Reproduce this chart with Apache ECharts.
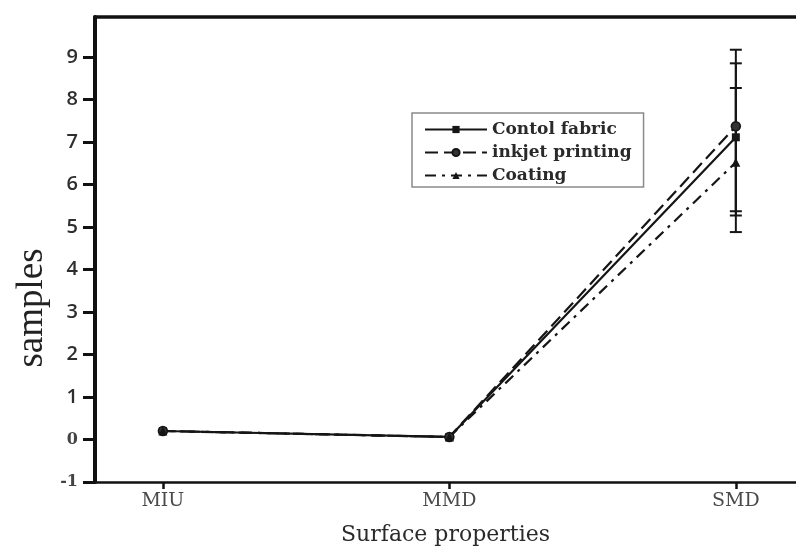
<!DOCTYPE html>
<html>
<head>
<meta charset="utf-8">
<script src="https://cdn.jsdelivr.net/npm/echarts@6/dist/echarts.min.js"></script>
<style>html,body{margin:0;padding:0;background:#fff;}#c{width:796px;height:551px;}</style>
</head>
<body>
<div id="c"></div>
<script>
const categories = ['MIU', 'MMD', 'SMD'];
const yTicks = [-1, 0, 1, 2, 3, 4, 5, 6, 7, 8, 9];
const seriesNames = ['Contol fabric', 'inkjet printing', 'Coating'];
const controlValues = [0.2, 0.06, 7.11];
const inkjetValues = [0.2, 0.06, 7.37];
const coatingValues = [0.2, 0.06, 6.52];
const controlErrLow = [null, null, 5.37];
const controlErrHigh = [null, null, 8.85];
const inkjetErrLow = [null, null, 5.27];
const inkjetErrHigh = [null, null, 9.17];
const coatingErrLow = [null, null, 4.88];
const coatingErrHigh = [null, null, 8.27];

const ink = '#151515';
const toPts = vals => vals.map((v, i) => [i, v]);
const errPts = (lo, hi) => lo.map((l, i) => [i, l, hi[i]]).filter(d => d[1] != null);

function errorSeries(lo, hi) {
  return {
    type: 'custom',
    silent: true,
    z: 1,
    data: errPts(lo, hi),
    renderItem: function (params, api) {
      const x = api.value(0);
      const a = api.coord([x, api.value(1)]);
      const b = api.coord([x, api.value(2)]);
      const cw = 6;
      const st = { stroke: ink, lineWidth: 2 };
      return {
        type: 'group',
        children: [
          { type: 'line', shape: { x1: a[0], y1: a[1], x2: b[0], y2: b[1] }, style: st },
          { type: 'line', shape: { x1: a[0] - cw, y1: a[1], x2: a[0] + cw, y2: a[1] }, style: st },
          { type: 'line', shape: { x1: b[0] - cw, y1: b[1], x2: b[0] + cw, y2: b[1] }, style: st }
        ]
      };
    }
  };
}

const chart = echarts.init(document.getElementById('c'), null, { renderer: 'canvas' });
chart.setOption({
  backgroundColor: '#fff',
  animation: false,
  grid: { left: 95, right: 0, top: 17, bottom: 68 },
  graphic: [{
    type: 'text',
    x: 32,
    y: 308,
    rotation: Math.PI / 2,
    style: {
      text: 'samples',
      fontFamily: 'Liberation Serif',
      fontSize: 37,
      fill: '#222',
      align: 'center',
      verticalAlign: 'middle'
    }
  }],
  legend: {
    orient: 'vertical',
    left: 412,
    top: 113,
    padding: [8, 12, 3, 12],
    borderColor: '#8a8a8a',
    borderWidth: 1.5,
    itemWidth: 62,
    itemHeight: 9,
    itemGap: 6,
    textStyle: { fontFamily: 'DejaVu Serif', fontWeight: 'bold', fontSize: 17, color: '#2a2a2a' },
    data: seriesNames
  },
  xAxis: [{
    type: 'value',
    min: -0.237,
    max: 2.21,
    splitLine: { show: false },
    axisLine: { show: true, onZero: false, lineStyle: { color: '#111', width: 2.5 } },
    axisTick: { show: true, customValues: [0, 1, 2], length: 7, lineStyle: { color: '#111', width: 2.5 } },
    axisLabel: {
      customValues: [0, 1, 2],
      formatter: v => categories[Math.round(v)],
      fontFamily: 'DejaVu Serif', fontSize: 19, color: '#4a4a4a', margin: 10
    },
    name: 'Surface properties',
    nameLocation: 'middle',
    nameGap: 42,
    nameTextStyle: { fontFamily: 'DejaVu Serif', fontSize: 22, color: '#2a2a2a' }
  }, {
    type: 'value',
    position: 'top',
    min: -0.237,
    max: 2.21,
    splitLine: { show: false },
    axisLine: { show: true, onZero: false, lineStyle: { color: '#111', width: 3.5 } },
    axisTick: { show: false },
    axisLabel: { show: false }
  }],
  yAxis: {
    type: 'value',
    min: -1,
    max: 9.94,
    splitLine: { show: false },
    axisLine: { show: true, onZero: false, lineStyle: { color: '#111', width: 4 } },
    axisTick: { show: true, customValues: yTicks, length: 12, lineStyle: { color: '#111', width: 3 } },
    axisLabel: {
      customValues: yTicks,
      margin: 17,
      formatter: v => (v <= 0 ? '{s|' + v + '}' : '{n|' + v + '}'),
      rich: {
        n: { fontFamily: 'Open Sans', fontSize: 20, fontWeight: 600, color: '#2e2e2e' },
        s: { fontFamily: 'DejaVu Serif', fontSize: 16, fontWeight: 'bold', color: '#444' }
      }
    }
  },
  series: [
    {
      name: seriesNames[0], type: 'line', data: toPts(controlValues), z: 3,
      symbol: 'rect', symbolSize: 8,
      lineStyle: { color: ink, width: 2.2, type: 'solid' },
      itemStyle: { color: ink }
    },
    {
      name: seriesNames[1], type: 'line', data: toPts(inkjetValues), z: 3,
      symbol: 'circle', symbolSize: 9,
      lineStyle: { color: ink, width: 2.2, type: [13, 6] },
      itemStyle: { color: '#333', borderColor: ink, borderWidth: 1.5 }
    },
    {
      name: seriesNames[2], type: 'line', data: toPts(coatingValues), z: 3,
      symbol: 'triangle', symbolSize: 9,
      lineStyle: { color: ink, width: 2.2, type: [11, 6, 3, 6] },
      itemStyle: { color: ink }
    },
    errorSeries(controlErrLow, controlErrHigh),
    errorSeries(inkjetErrLow, inkjetErrHigh),
    errorSeries(coatingErrLow, coatingErrHigh)
  ]
});
</script>
</body>
</html>
